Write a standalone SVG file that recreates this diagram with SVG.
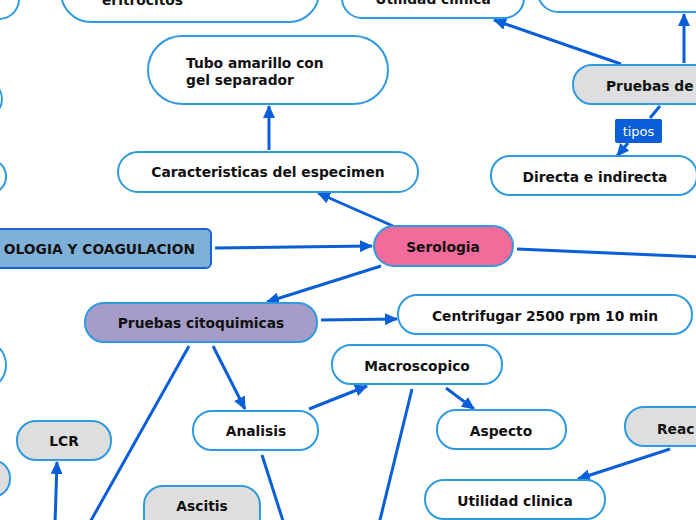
<svg xmlns="http://www.w3.org/2000/svg" width="696" height="520" viewBox="0 0 696 520">
<style>
.n{fill:#ffffff;stroke:#2f9ae0;stroke-width:2}
.g{fill:#dedede;stroke:#2f9ae0;stroke-width:2}
.t{font-family:"DejaVu Sans",Verdana,sans-serif;font-weight:bold;font-size:13.8px;fill:#111111}
.c{text-anchor:middle}
.e{fill:none;stroke:#0a5ed8;stroke-width:3}
</style>
<defs>
<marker id="ah" markerUnits="userSpaceOnUse" markerWidth="13" markerHeight="12" viewBox="0 0 13 12" refX="12" refY="6" orient="auto">
<path d="M0,0 L13,6 L0,12 z" fill="#0a5ed8"/>
</marker>
</defs>
<rect width="696" height="520" fill="#ffffff"/>
<g id="connectors">
<path class="e" d="M215,248 L372,246" marker-end="url(#ah)"/>
<path class="e" d="M393,226 L318,193" marker-end="url(#ah)"/>
<path class="e" d="M269,150 L269,106" marker-end="url(#ah)"/>
<path class="e" d="M517,249 L700,257"/>
<path class="e" d="M381,266 L267,302" marker-end="url(#ah)"/>
<path class="e" d="M321,320 L397,319" marker-end="url(#ah)"/>
<path class="e" d="M213,346 L245,409" marker-end="url(#ah)"/>
<path class="e" d="M189,346 L89,524"/>
<path class="e" d="M309,409 L367,386" marker-end="url(#ah)"/>
<path class="e" d="M262,455 L284,524"/>
<path class="e" d="M446,388 L474,409" marker-end="url(#ah)"/>
<path class="e" d="M412,389 L379,524"/>
<path class="e" d="M670,449 L578,479" marker-end="url(#ah)"/>
<path class="e" d="M55,524 L57,462" marker-end="url(#ah)"/>
<path class="e" d="M621,64 L494,20" marker-end="url(#ah)"/>
<path class="e" d="M684,63 L684,14" marker-end="url(#ah)"/>
<path class="e" d="M660,106 L650,118"/>
<path class="e" d="M628,143 L617,156" marker-end="url(#ah)"/>
</g>
<g id="node-topleft"><rect class="n" x="-100" y="-40" width="119" height="59" rx="20"/></g>
<g id="node-eritrocitos"><rect class="n" x="61" y="-40" width="258" height="62" rx="30"/><text class="t" x="102" y="5">eritrocitos</text></g>
<g id="node-utilidad-top"><rect class="n" x="342" y="-22" width="182" height="40" rx="20"/><text class="t c" x="433" y="4">Utilidad clinica</text></g>
<g id="node-topright"><rect class="n" x="538" y="-28" width="200" height="40" rx="20"/></g>
<g id="node-left1"><rect class="n" x="-100" y="80" width="102" height="38" rx="19"/></g>
<g id="node-left2"><rect class="n" x="-100" y="160" width="106" height="33" rx="16"/></g>
<g id="node-left3"><rect class="n" x="-100" y="340" width="106" height="50" rx="25"/></g>
<g id="node-left4"><rect class="g" x="-100" y="460" width="110" height="37" rx="18"/></g>
<g id="node-tubo"><rect class="n" x="148" y="36" width="240" height="68" rx="34"/><text class="t" x="186" y="68">Tubo amarillo con</text><text class="t" x="186" y="85">gel separador</text></g>
<g id="node-caracteristicas"><rect class="n" x="118" y="152" width="300" height="40" rx="20"/><text class="t c" x="268" y="177">Caracteristicas del especimen</text></g>
<g id="node-root"><rect x="-20" y="229" width="231" height="39" rx="5" fill="#7fb1d8" stroke="#1565d8" stroke-width="2"/><text class="t" x="195" y="254" text-anchor="end">OLOGIA Y COAGULACION</text></g>
<g id="node-serologia"><rect x="374" y="226" width="139" height="40" rx="20" fill="#f36b9b" stroke="#2f9ae0" stroke-width="2"/><text class="t c" x="443" y="252">Serologia</text></g>
<g id="node-pruebas-de"><rect class="g" x="573" y="65" width="160" height="39" rx="19"/><text class="t" x="606" y="91">Pruebas de</text></g>
<g id="label-tipos"><rect x="615" y="119" width="47" height="24" rx="2" fill="#0a5ed8"/><text x="638.5" y="136" text-anchor="middle" font-family="DejaVu Sans,Verdana,sans-serif" font-size="13" fill="#ffffff">tipos</text></g>
<g id="node-directa"><rect class="n" x="491" y="156" width="206" height="39" rx="19"/><text class="t c" x="595" y="182">Directa e indirecta</text></g>
<g id="node-citoquimicas"><rect x="85" y="303" width="232" height="39" rx="19" fill="#a59dc8" stroke="#2f9ae0" stroke-width="2"/><text class="t c" x="201" y="328">Pruebas citoquimicas</text></g>
<g id="node-centrifugar"><rect class="n" x="398" y="295" width="294" height="39" rx="19"/><text class="t c" x="545" y="321">Centrifugar 2500 rpm 10 min</text></g>
<g id="node-macroscopico"><rect class="n" x="332" y="345" width="170" height="39" rx="19"/><text class="t c" x="417" y="371">Macroscopico</text></g>
<g id="node-analisis"><rect class="n" x="193" y="411" width="125" height="39" rx="19"/><text class="t c" x="256" y="436">Analisis</text></g>
<g id="node-aspecto"><rect class="n" x="437" y="410" width="129" height="39" rx="19"/><text class="t c" x="501" y="436">Aspecto</text></g>
<g id="node-reac"><rect class="g" x="625" y="407" width="120" height="39" rx="19"/><text class="t" x="657" y="434">Reac</text></g>
<g id="node-utilidad-bottom"><rect class="n" x="425" y="480" width="180" height="39" rx="19"/><text class="t c" x="515" y="506">Utilidad clinica</text></g>
<g id="node-lcr"><rect class="g" x="17" y="421" width="94" height="39" rx="19"/><text class="t c" x="64" y="446">LCR</text></g>
<g id="node-ascitis"><rect class="g" x="144" y="486" width="116" height="50" rx="19"/><text class="t c" x="202" y="511">Ascitis</text></g>
</svg>
